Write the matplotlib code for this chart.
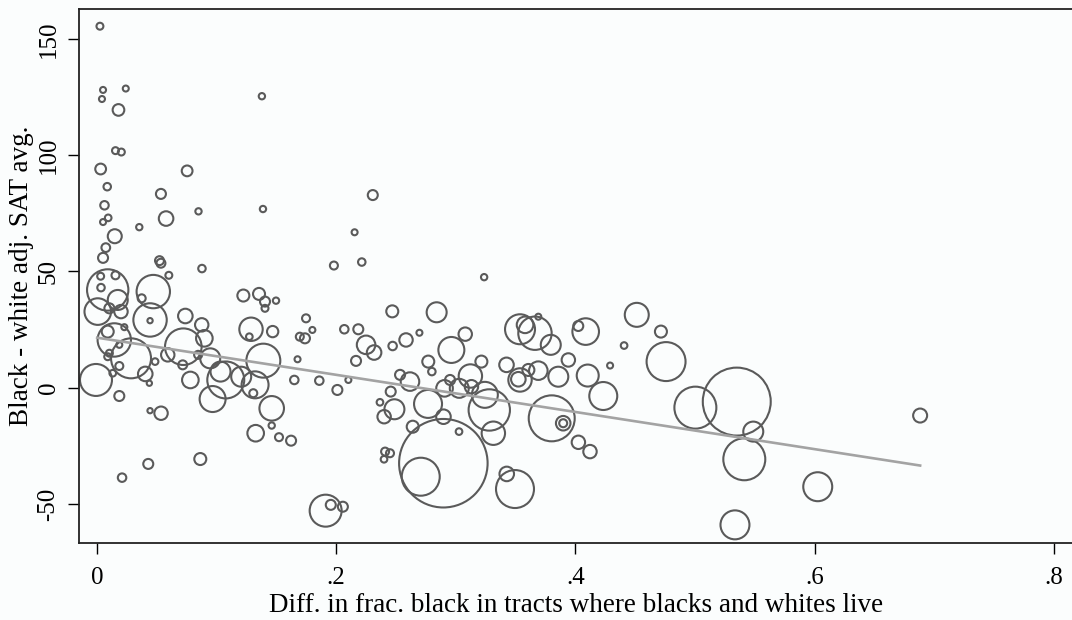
import matplotlib
matplotlib.use('Agg')
import matplotlib.pyplot as plt
import numpy as np

# diff. in frac. black in tracts (x), black - white adj. SAT avg. (y), weight (bubble size)
frac_diff = [
    0.0026, 0.0052, 0.0043, 0.0242, 0.0181, 0.1380, 0.0156, 0.0205, 0.0032, 0.0755,
    0.0087, 0.0536, 0.2307, 0.0064, 0.0579, 0.0850, 0.1389, 0.0095, 0.0052, 0.0355,
    0.0150, 0.2155, 0.0075, 0.0052, 0.0524, 0.0536, 0.0879, 0.1982, 0.2215, 0.3238,
    0.0602, 0.0032, 0.0156, 0.0091, 0.0035, 0.0472, 0.1225, 0.1356, 0.1406, 0.1406,
    0.1498, 0.0008, 0.0175, 0.0105, 0.0202, 0.0375, 0.0445, 0.0445, 0.0740, 0.0877,
    0.0899, 0.1289, 0.1275, 0.1470, 0.0146, 0.0091, 0.0230, 0.0188, 0.0105, 0.0091,
    0.0286, -0.0007, 0.0133, 0.0188, 0.0405, 0.0439, 0.0487, 0.0188, 0.0445, 0.0537,
    0.0723, 0.0593, 0.0718, 0.0782, 0.0847, 0.0948, 0.1034, 0.1078, 0.0968, 0.1392,
    0.1323, 0.1207, 0.1308, 0.1462, 0.1462, 0.1328, 0.1523, 0.1624, 0.0211, 0.0430,
    0.0865, 0.1749, 0.1697, 0.1740, 0.1802, 0.1678, 0.1651, 0.1860, 0.2011, 0.2103,
    0.2069, 0.2186, 0.2251, 0.2318, 0.2167, 0.1913, 0.1956, 0.2057, 0.2470, 0.2473,
    0.2585, 0.2697, 0.2841, 0.2535, 0.2618, 0.2457, 0.2367, 0.2488, 0.2402, 0.2641,
    0.2769, 0.2898, 0.2410, 0.2451, 0.2401, 0.2897, 0.2708, 0.3028, 0.3315, 0.3496,
    0.3427, 0.2964, 0.3080, 0.2771, 0.2801, 0.3215, 0.3425, 0.2953, 0.3030, 0.2907,
    0.3123, 0.3132, 0.3244, 0.3281, 0.3538, 0.3580, 0.3663, 0.3691, 0.3795, 0.4087,
    0.4025, 0.3538, 0.3524, 0.3608, 0.3691, 0.3858, 0.3942, 0.4104, 0.4234, 0.4291,
    0.3803, 0.3899, 0.3899, 0.4026, 0.4123, 0.4408, 0.4514, 0.4716, 0.4759, 0.5004,
    0.5350, 0.5488, 0.5413, 0.6027, 0.5335, 0.6883,
]
sat_gap = [
    155.4, 128.0, 124.1, 128.6, 119.4, 125.3, 101.9, 101.3, 94.0, 93.2,
    86.4, 83.3, 82.8, 78.4, 72.7, 75.8, 76.8, 73.0, 71.2, 69.0,
    65.1, 66.8, 60.2, 55.8, 54.6, 53.5, 51.2, 52.5, 54.0, 47.5,
    48.3, 47.9, 48.3, 42.0, 43.0, 41.3, 39.6, 40.3, 37.0, 34.1,
    37.4, 32.7, 37.7, 34.1, 32.7, 38.4, 29.1, 28.8, 30.8, 27.0,
    21.2, 25.1, 21.9, 24.1, 20.5, 24.1, 26.0, 18.4, 14.8, 13.3,
    12.6, 3.3, 6.2, 9.3, 5.9, 1.9, 11.2, -3.6, -9.9, -11.0,
    17.6, 14.1, 9.8, 3.3, 14.1, 12.6, 6.9, 3.3, -4.9, 11.6,
    1.2, 4.7, -2.4, -8.9, -16.3, -19.6, -21.3, -22.8, -38.7, -32.8,
    -30.7, 29.8, 21.9, 21.2, 24.8, 12.2, 3.3, 3.0, -1.0, 3.3,
    25.1, 25.1, 18.4, 15.1, 11.5, -52.9, -50.4, -51.2, 32.8, 17.9,
    20.5, 23.6, 32.4, 5.5, 2.6, -1.7, -6.3, -9.3, -12.5, -16.8,
    -7.0, -12.5, -27.5, -28.2, -30.8, -32.5, -38.3, -18.9, -19.6, -43.6,
    -37.1, 16.2, 23.0, 11.2, 6.9, 11.2, 9.8, 3.3, -0.3, -0.3,
    5.0, 0.4, -3.1, -9.6, 25.1, 27.0, 23.4, 30.5, 18.4, 24.1,
    26.5, 3.3, 3.6, 7.6, 7.3, 4.7, 11.9, 5.2, -3.6, 9.5,
    -13.2, -15.3, -15.3, -23.5, -27.5, 18.1, 31.3, 24.1, 11.2, -8.6,
    -6.0, -18.9, -30.8, -42.6, -59.0, -12.0,
]
weight = [
    12, 9, 9, 9, 34, 10, 12, 12, 29, 29,
    14, 25, 25, 18, 53, 10, 10, 11, 9, 10,
    49, 9, 19, 25, 20, 20, 14, 16, 14, 10,
    12, 12, 16, 428, 14, 279, 36, 36, 25, 12,
    10, 177, 100, 25, 45, 16, 279, 7, 53, 45,
    69, 137, 11, 32, 279, 36, 9, 9, 12, 12,
    400, 256, 11, 16, 53, 7, 11, 25, 7, 45,
    335, 45, 20, 69, 16, 100, 100, 342, 169, 289,
    182, 100, 16, 151, 10, 69, 16, 25, 18, 25,
    36, 16, 16, 25, 9, 9, 18, 18, 25, 9,
    18, 25, 86, 53, 25, 256, 25, 25, 36, 18,
    45, 9, 100, 25, 86, 25, 11, 100, 45, 36,
    196, 53, 16, 16, 11, 1962, 361, 11, 137, 361,
    53, 169, 45, 36, 14, 36, 53, 25, 90, 69,
    137, 45, 169, 428, 225, 69, 279, 9, 100, 177,
    25, 137, 53, 36, 86, 100, 45, 121, 196, 9,
    529, 53, 16, 45, 45, 11, 144, 36, 380, 441,
    1156, 100, 441, 210, 210, 49,
]

# fitted line
fit_intercept = 21.5
fit_slope = -79.9

x = np.array(frac_diff)
y = np.array(sat_gap)
w = np.array(weight)

plt.rcParams['font.family'] = ['Liberation Serif', 'DejaVu Serif']

bg = '#fbfdfd'
fig = plt.figure(figsize=(10.72, 6.2), dpi=100, facecolor=bg)
ax = fig.add_axes([79 / 1072, 77 / 620, 994 / 1072, 534 / 620])
ax.set_facecolor(bg)

ax.scatter(x, y, s=w * 2.07, facecolors='none', edgecolors='#5a5a5a',
           linewidths=1.5, zorder=2)

xf = np.array([x.min() + 0.001, x.max()])
ax.plot(xf, fit_intercept + fit_slope * xf, color='#a3a3a3', lw=1.9, zorder=3)

ax.set_xlim(-0.0149, 0.8161)
ax.set_ylim(-66.8, 162.8)
ax.set_xticks([0, 0.2, 0.4, 0.6, 0.8])
ax.set_xticklabels(['0', '.2', '.4', '.6', '.8'])
ax.set_yticks([-50, 0, 50, 100, 150])
ax.set_yticklabels(['-50', '0', '50', '100', '150'])

ax.tick_params(axis='both', direction='out', length=8, width=1.0,
               colors='black', labelsize=18)
ax.tick_params(axis='y', labelrotation=90, pad=6)
ax.tick_params(axis='x', pad=9)
for lab in ax.get_yticklabels():
    lab.set_va('center')

for side in ['left', 'bottom', 'top']:
    ax.spines[side].set_color('#222222')
    ax.spines[side].set_linewidth(1.3)
ax.spines['right'].set_visible(False)

ax.set_xlabel('Diff. in frac. black in tracts where blacks and whites live',
              fontsize=19.5, labelpad=3)
ax.set_ylabel('Black - white adj. SAT avg.', fontsize=19.5)
ax.yaxis.set_label_coords(-0.045, 0.5)

fig.savefig('out.png', dpi=100, facecolor=bg)
